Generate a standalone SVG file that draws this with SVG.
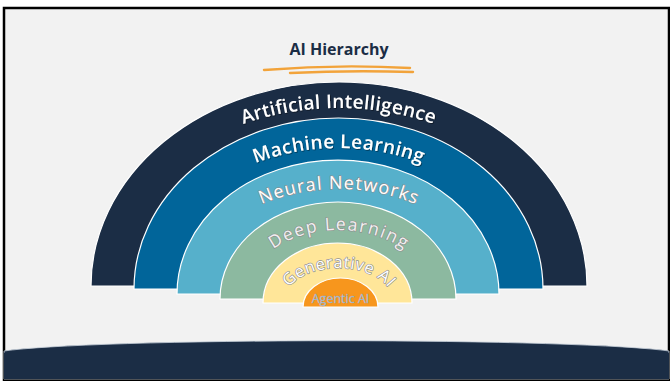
<svg xmlns="http://www.w3.org/2000/svg" width="670" height="381" viewBox="0 0 670 381">
<defs>
<style>
.band{stroke:#ffffff;stroke-width:1.2}
.t{font-family:"Open Sans","DejaVu Sans",sans-serif}
.bold{font-weight:600;fill:#ffffff}
.outl{font-weight:400;fill:#ffffff;stroke:#8f8f8f;stroke-width:1.3;paint-order:stroke;stroke-linejoin:round}
.ul{fill:none;stroke:#f2a33a;stroke-width:2.4;stroke-linecap:round}
</style>
<filter id="sh" x="-10%" y="-30%" width="120%" height="160%">
<feDropShadow dx="0.8" dy="0.8" stdDeviation="0.6" flood-color="#000000" flood-opacity="0.5"/>
</filter>
<path id="pAI" d="M108.5,288 A230,180 0 0 1 568.5,288"/>
<path id="pML" d="M153.5,291 A185,143 0 0 1 523.5,291"/>
<path id="pNN" d="M188.5,296 A150,107 0 0 1 488.5,296"/>
<path id="pDL" d="M243.5,300 A95,70 0 0 1 433.5,300"/>
<path id="pGA" d="M283.5,302 A55,34 0 0 1 393.5,302"/>
</defs>
<rect x="0" y="0" width="670" height="381" fill="#ffffff"/>
<rect x="4" y="8" width="665" height="372" fill="#f2f2f2" stroke="#000000" stroke-width="2.5"/>
<g id="title">
<text class="t" x="339" y="55" text-anchor="middle" font-size="16" font-weight="700" fill="#1b2d45">AI Hierarchy</text>
<path class="ul" d="M264,70 Q337,64 410,68"/>
<path class="ul" d="M290,73 Q350,70 413,72"/>
</g>
<g id="ai">
<path class="band" fill="#1b2d45" d="M91,286 A248,204 0 0 1 587,286 Z"/>
<text class="t bold" font-size="19" filter="url(#sh)"><textPath href="#pAI" startOffset="50%" text-anchor="middle" textLength="194" lengthAdjust="spacing">Artificial Intelligence</textPath></text>
</g>
<g id="ml">
<path class="band" fill="#01659a" d="M134,289 A204.5,171 0 0 1 543,289 Z"/>
<text class="t bold" font-size="19" filter="url(#sh)"><textPath href="#pML" startOffset="50%" text-anchor="middle" textLength="170" lengthAdjust="spacing">Machine Learning</textPath></text>
</g>
<g id="nn">
<path class="band" fill="#56b0cb" d="M177,294 A161,134 0 0 1 499,294 Z"/>
<text class="t outl" font-size="18"><textPath href="#pNN" startOffset="50%" text-anchor="middle" textLength="158" lengthAdjust="spacing">Neural Networks</textPath></text>
</g>
<g id="dl">
<path class="band" fill="#8cb9a0" d="M220,299 A118,97 0 0 1 456,299 Z"/>
<text class="t outl" font-size="17.5" style="fill:#f0f0f0"><textPath href="#pDL" startOffset="50%" text-anchor="middle" textLength="138" lengthAdjust="spacing">Deep Learning</textPath></text>
</g>
<g id="genai">
<path class="band" fill="#ffe699" d="M263,303 A74.5,60 0 0 1 412,303 Z"/>
<text class="t outl" font-size="16.5"><textPath href="#pGA" startOffset="50%" text-anchor="middle" textLength="110" lengthAdjust="spacing">Generative AI</textPath></text>
</g>
<g id="agentic">
<path class="band" fill="#f7961d" d="M303,307 A37.5,29 0 0 1 378,307 Z"/>
<text class="t" x="340.5" y="303" text-anchor="middle" font-size="12.5" fill="#b8cce4" stroke="#8fa0b4" stroke-width="0.3">Agentic AI</text>
</g>
<g id="footer">
<path d="M4,351 A345,14 0 0 1 669,351 L669,379 L4,379 Z" fill="#1b2d45" stroke="#c8d0da" stroke-width="0.8"/>
<rect x="4" y="353" width="665" height="26" fill="#1b2d45"/>
</g>
</svg>
